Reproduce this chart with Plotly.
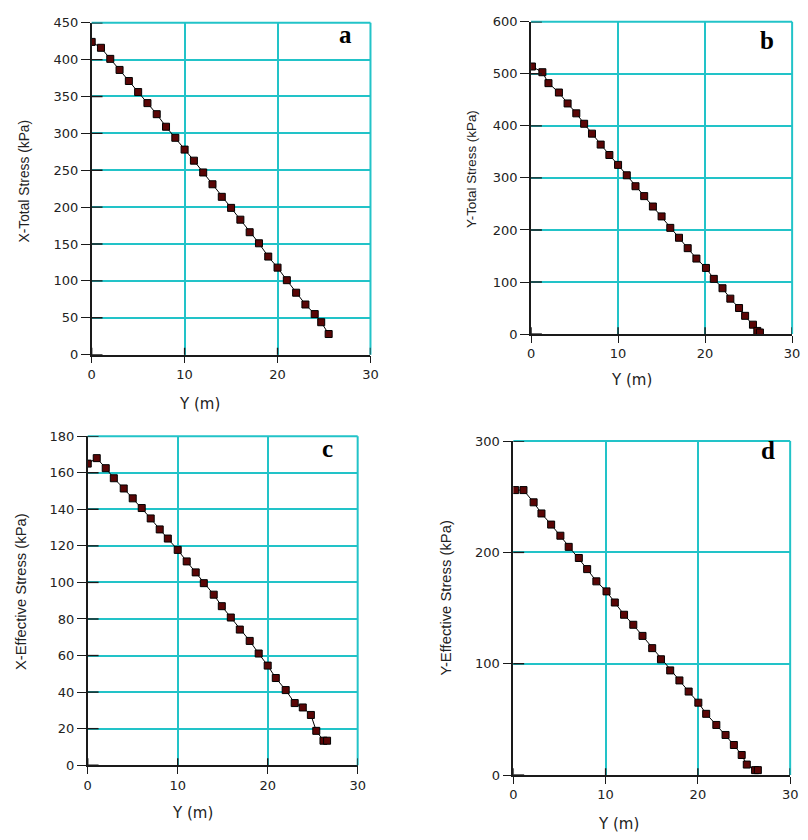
import plotly.graph_objects as go

# ---- data -------------------------------------------------------------
# (a) X-total stress vs depth
a_depth = [0, 1, 2, 3, 4, 5, 6, 7, 8, 9, 10, 11, 12, 13, 14, 15, 16, 17, 18, 19,
           20, 21, 22, 23, 24, 24.7, 25.5]
a_stress = [424, 416, 401, 386, 371, 356, 341, 326, 309, 294, 278, 263, 247, 231,
            214, 199, 183, 166, 151, 133, 118, 101, 84, 68, 55, 44, 28]

# (b) Y-total stress vs depth
b_depth = [0.1, 1.3, 2, 3.2, 4.2, 5.2, 6.1, 7, 8, 9, 10, 11, 12, 13, 14, 15, 16,
           17, 18, 19, 20.1, 21, 22, 22.9, 23.9, 24.6, 25.5, 26, 26.3]
b_stress = [514, 503, 482, 464, 443, 424, 404, 385, 364, 344, 325, 305, 284, 265,
            245, 226, 204, 185, 165, 145, 127, 106, 88, 68, 50, 35, 18, 6, 3]

# (c) X-effective stress vs depth
c_depth = [0, 1, 2, 2.9, 4, 5, 6, 7, 8, 8.9, 10, 11, 12, 12.9, 14, 14.9, 15.9,
           16.9, 18, 19, 20, 20.9, 22, 23, 23.9, 24.8, 25.4, 26.2, 26.6]
c_stress = [165, 168, 162.5, 157, 151.4, 146, 140.7, 135, 129, 124, 117.8, 111.5,
            105.5, 99.6, 93.3, 87, 80.8, 74.2, 68, 61.1, 54.5, 47.7, 41.1, 34,
            31.6, 27.5, 18.8, 13.4, 13.4]

# (d) Y-effective stress vs depth
d_depth = [0.2, 1.1, 2.2, 3.05, 4.1, 5.1, 6, 7.1, 8, 9, 10.1, 11, 12, 13, 14,
           15.05, 16, 17, 18, 19, 20.05, 20.9, 22, 23, 23.9, 24.75, 25.3, 26.2, 26.5]
d_stress = [256, 256, 245, 235, 225, 215, 205, 195, 185, 174, 165, 155, 144, 135,
            125, 114, 104, 94, 85, 75, 65, 55, 45, 36, 27, 18, 9.4, 4.4, 4.4]

x_ticks = [0, 10, 20, 30]
a_ticks = [0, 50, 100, 150, 200, 250, 300, 350, 400, 450]
b_ticks = [0, 100, 200, 300, 400, 500, 600]
c_ticks = [0, 20, 40, 60, 80, 100, 120, 140, 160, 180]
d_ticks = [0, 100, 200, 300]

y_titles = ["X-Total Stress (kPa)", "Y-Total Stress (kPa)",
            "X-Effective Stress (kPa)", "Y-Effective Stress (kPa)"]
x_title = "Y (m)"
letters = ["a", "b", "c", "d"]

# ---- layout helpers ---------------------------------------------------
W, H = 808, 840
GRID = "#22c3c8"
INK = "#1a1a1a"
FONT = "Arial, Liberation Sans, sans-serif"
TICKFONT = "DejaVu Sans, sans-serif"


def px(x):
    return x / W


def py(y):
    return 1 - y / H


# plot-area boxes in pixels: left, right, top, bottom
boxes = [
    (89, 372, 16, 354),
    (535, 800, 15, 333),
    (85, 359, 437, 772),
    (517, 798, 442, 782),
]
series = [
    (a_depth, a_stress, a_ticks),
    (b_depth, b_stress, b_ticks),
    (c_depth, c_stress, c_ticks),
    (d_depth, d_stress, d_ticks),
]
# label positions (pixels): y title centre, x title centre, panel letter
ytitle_pos = [(21, 177), (474, 165), (18, 595), (449, 602)]
ytitle_size = [13.8, 13.4, 14.8, 14.8]
xtitle_pos = [(198, 404), (637, 380), (191, 821), (624, 832)]
letter_pos = [(347, 28), (774, 34), (328, 450), (776, 452)]

fig = go.Figure()
shapes = []
annotations = []

for i, ((l, r, t, b), (xs, ys, yt)) in enumerate(zip(boxes, series)):
    n = "" if i == 0 else str(i + 1)
    xa, ya = "x" + n, "y" + n
    fig.add_trace(go.Scatter(
        x=xs, y=ys, xaxis=xa, yaxis=ya, mode="lines+markers",
        line=dict(color="black", width=1),
        marker=dict(symbol="square", size=7, color="#5a0606",
                    line=dict(color="black", width=1)),
        showlegend=False, hoverinfo="skip",
    ))
    common = dict(
        showline=True, linecolor=INK, linewidth=1.6,
        ticks="outside", tickcolor=INK, tickwidth=1.4,
        showgrid=True, gridcolor=GRID, gridwidth=2,
        zeroline=False, tickfont=dict(family=TICKFONT, size=13, color="#222"),
        fixedrange=True,
    )
    fig.layout["xaxis" + n] = dict(
        common, domain=[px(l), px(r)], anchor=ya, range=[0, 30],
        tickmode="array", tickvals=x_ticks, ticklen=7,
    )
    fig.layout["yaxis" + n] = dict(
        common, domain=[py(b), py(t)], anchor=xa, range=[yt[0], yt[-1]],
        tickmode="array", tickvals=yt, ticklen=9,
    )

    xd, yd = xa + " domain", ya + " domain"
    wpx, hpx = r - l, b - t
    # cyan frame on the top and right edges
    shapes.append(dict(type="line", xref=xd, yref=yd, x0=1, x1=1, y0=0, y1=1,
                       line=dict(color=GRID, width=2), layer="above"))
    shapes.append(dict(type="line", xref=xd, yref=yd, x0=0, x1=1, y0=1, y1=1,
                       line=dict(color=GRID, width=2), layer="above"))
    # inner half of the crossing tick marks
    for v in yt:
        shapes.append(dict(type="line", xref=xd, yref=ya, x0=0, x1=11 / wpx,
                           y0=v, y1=v, line=dict(color=INK, width=1.4),
                           layer="above"))
    for v in x_ticks:
        shapes.append(dict(type="line", xref=xa, yref=yd, x0=v, x1=v, y0=0,
                           y1=7 / hpx, line=dict(color=INK, width=1.4),
                           layer="above"))

    annotations.append(dict(
        text=y_titles[i], textangle=-90, xref="paper", yref="paper",
        x=px(ytitle_pos[i][0]), y=py(ytitle_pos[i][1]), showarrow=False,
        xanchor="center", yanchor="middle",
        font=dict(family=FONT, size=ytitle_size[i], color="#222"),
    ))
    annotations.append(dict(
        text=x_title, xref="paper", yref="paper",
        x=px(xtitle_pos[i][0]), y=py(xtitle_pos[i][1]), showarrow=False,
        xanchor="center", yanchor="middle",
        font=dict(family=TICKFONT, size=15, color="#222"),
    ))
    annotations.append(dict(
        text="<b>" + letters[i] + "</b>", xref="paper", yref="paper",
        x=px(letter_pos[i][0]), y=py(letter_pos[i][1]), showarrow=False,
        xanchor="center", yanchor="middle",
        font=dict(family="Times New Roman, Liberation Serif, serif", size=25,
                  color="black"),
    ))

fig.update_layout(
    width=W, height=H, margin=dict(l=0, r=0, t=0, b=0),
    paper_bgcolor="white", plot_bgcolor="white",
    shapes=shapes, annotations=annotations,
)

fig.write_html("out.html")
